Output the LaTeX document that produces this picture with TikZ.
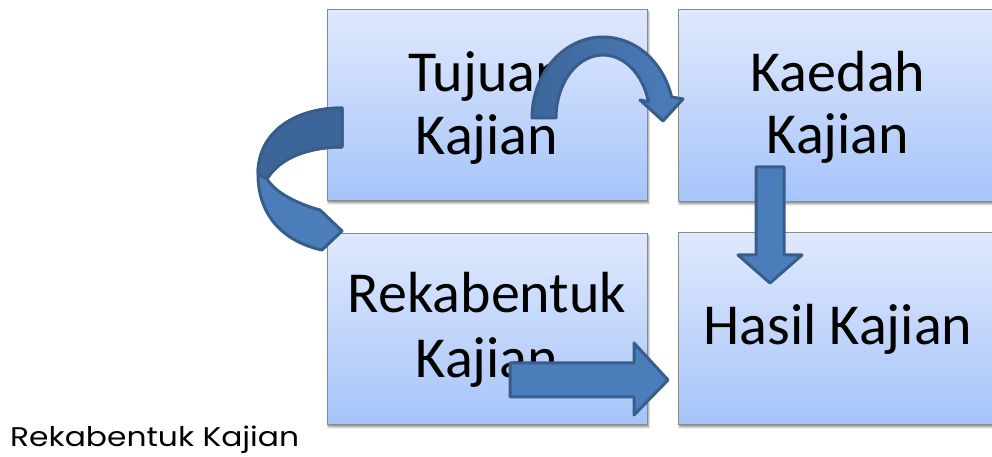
\documentclass[tikz,border=0pt]{standalone}
\usepackage{fontspec}
\usetikzlibrary{shadows.blur}
\newfontfamily\boxfont{Carlito}
\newfontfamily\capfont{Poppins}
\definecolor{boxtop}{RGB}{223,233,253}
\definecolor{boxbot}{RGB}{166,196,249}
\definecolor{boxline}{RGB}{138,138,138}
\definecolor{arrfill}{RGB}{76,125,187}
\definecolor{arrdark}{RGB}{60,102,154}
\definecolor{arrline}{RGB}{56,93,138}
\tikzset{
  box/.style={draw=boxline, line width=1pt, top color=boxtop, bottom color=boxbot,
    inner sep=0pt, outer sep=0pt, anchor=south west, minimum width=320pt,
    blur shadow={shadow xshift=1.5pt, shadow yshift=-2pt, shadow blur radius=2pt,
      shadow blur steps=6, shadow opacity=45}},
  lbl/.style={font=\boxfont\fontsize{58}{63}\selectfont, anchor=base, inner sep=0pt},
  blockarrow/.style={draw=arrline, line width=3pt, line join=round, fill=arrfill},
}
\begin{document}
\begin{tikzpicture}[x=1pt, y=1pt]
\useasboundingbox (0,0) rectangle (992,457);
\begin{scope}
\clip (0,0) rectangle (992,457);
% the four stages
\node[box, minimum height=191pt] (tujuan) at (327,256) {};
\node[box, minimum height=192pt] (kaedah) at (678,255) {};
\node[box, minimum height=191pt] (reka) at (327,32) {};
\node[box, minimum height=192pt] (hasil) at (678,32) {};
\end{scope}

\node[lbl] (tujuanA) at (487,365) {Tujuan};
\node[lbl] (tujuanB) at (487,302) {Kajian};
\node[lbl] (kaedahA) at (838,365) {Kaedah};
\node[lbl] (kaedahB) at (838,303) {Kajian};
\node[lbl] (rekaA) at (487,144) {Rekabentuk};
\node[lbl] (rekaB) at (487,79) {Kajian};
\node[lbl] (hasilA) at (838,112) {Hasil Kajian};

% curved arrow over the top: Tujuan -> Kaedah
\draw[blockarrow, left color=arrdark, right color=arrfill]
  (532,339) arc[start angle=180, end angle=15, x radius=71pt, y radius=81pt]
  -- (683,358) -- (663,336) -- (640,357) -- (648.4,355.3)
  arc[start angle=15, end angle=180, x radius=47pt, y radius=63pt] -- cycle;

% U-turn arrow on the left: Tujuan -> Rekabentuk
\draw[blockarrow]
  (342,349) .. controls (295,349) and (258,325) .. (258,283)
  .. controls (258,240) and (285,215) .. (322,207)
  -- (342,226) -- (320,247)
  .. controls (295,254) and (275,265) .. (267,278)
  .. controls (280,300) and (310,310) .. (342,310) -- cycle;
\draw[blockarrow, fill=arrdark]
  (342,349) .. controls (295,349) and (258,325) .. (258,283)
  -- (267,278)
  .. controls (280,300) and (310,310) .. (342,310) -- cycle;

% straight arrows: Kaedah -> Hasil, Rekabentuk -> Hasil
\draw[blockarrow] (756,290) -- (784,290) -- (784,202) -- (802,202) -- (770,174)
  -- (738,202) -- (756,202) -- cycle;
\draw[blockarrow] (510,94) -- (634,94) -- (634,114) -- (668,77) -- (634,42)
  -- (634,60) -- (510,60) -- cycle;

\node[anchor=base west, inner sep=0pt] (caption) at (10,10)
  {\scalebox{1.16}[1]{\capfont\fontsize{27}{30}\selectfont Rekabentuk Kajian}};
\end{tikzpicture}
\end{document}
